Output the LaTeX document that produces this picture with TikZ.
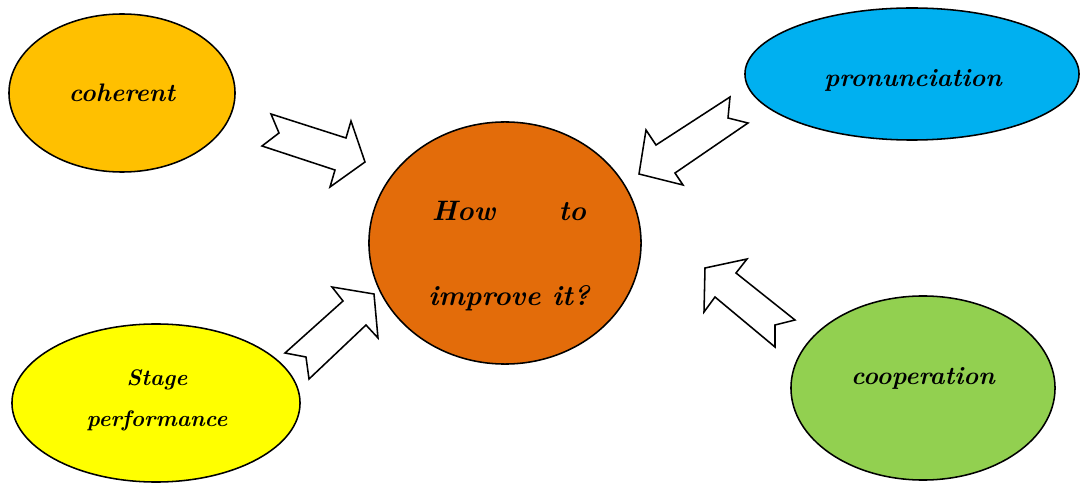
\documentclass[tikz,border=0pt]{standalone}
\usepackage{tikz}
\usetikzlibrary{shapes.geometric}
\definecolor{cohfill}{RGB}{255,192,0}
\definecolor{pronfill}{RGB}{0,176,240}
\definecolor{howfill}{RGB}{227,108,10}
\definecolor{stagefill}{RGB}{255,255,0}
\definecolor{coopfill}{RGB}{146,208,80}
\tikzstyle{topic}=[ellipse,draw,line width=1.1pt,inner sep=0pt,align=center,font=\fontsize{18}{22}\selectfont\bfseries\itshape]
\tikzstyle{topictxt}=[align=center,inner sep=0pt,font=\fontsize{18}{22}\selectfont\bfseries\itshape]
\tikzstyle{blockarr}=[draw,line width=1.1pt,fill=white,line join=miter]

\begin{document}
\begin{tikzpicture}[x=0.025cm,y=-0.025cm]
    \useasboundingbox (0,0) rectangle (1080,485);
    % topics
    \node[topic,fill=cohfill,minimum width=5.65cm,minimum height=3.95cm] (coh) at (122,93) {coherent};
    \node[topic,fill=pronfill,minimum width=8.35cm,minimum height=3.3cm] (pron) at (912,74) {};
    \node[topictxt] (prontxt) at (913,80) {pronunciation};
    \node[topic,fill=stagefill,minimum width=7.2cm,minimum height=3.95cm] (stage) at (156,403) {};
    \node[topictxt,font=\fontsize{16}{29}\selectfont\bfseries\itshape] (stagetxt) at (157,400) {Stage\\performance};
    \node[topic,fill=coopfill,minimum width=6.6cm,minimum height=4.6cm] (coop) at (923,388) {};
    \node[topictxt] (cooptxt) at (923,378) {cooperation};
    \node[topic,fill=howfill,minimum width=6.8cm,minimum height=6.05cm] (how) at (505,243) {};
    \node[topictxt,font=\fontsize{20}{60}\selectfont\bfseries\itshape] (howtxt) at (509,256) {\makebox[3.85cm]{How\hfill to}\\improve it?};
    % block arrows
    \draw[blockarr] (271,114) -- (279,133) -- (262,146) -- (335,170) -- (330,187)
        -- (365,162) -- (351,121) -- (346,138) -- cycle;
    \draw[blockarr] (639,174) -- (646,130) -- (656,145) -- (730,97) -- (728,118)
        -- (748,123) -- (675,173) -- (683,185) -- cycle;
    \draw[blockarr] (285,353) -- (306,357) -- (309,379) -- (366,325) -- (378,338)
        -- (374,294) -- (332,287) -- (343,301) -- cycle;
    \draw[blockarr] (705,268) -- (747,259) -- (736,273) -- (795,320) -- (775,325)
        -- (775,347) -- (715,297) -- (704,312) -- cycle;
\end{tikzpicture}
\end{document}
